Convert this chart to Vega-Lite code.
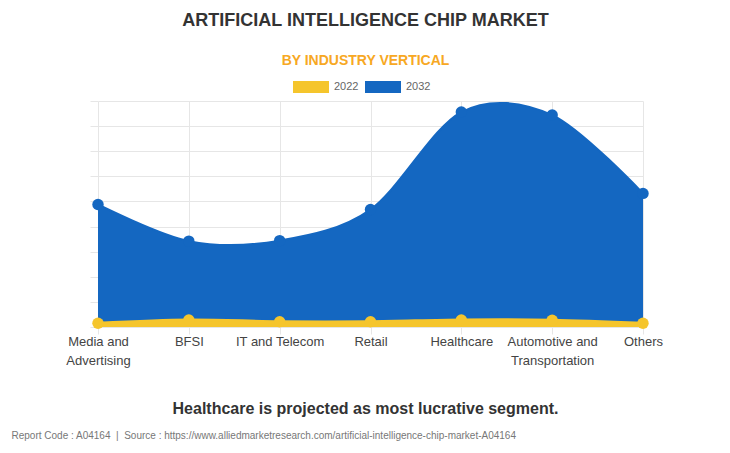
{
  "$schema": "https://vega.github.io/schema/vega-lite/v6.json",
  "autosize": {"type": "none"},
  "width": 545,
  "height": 226,
  "padding": {"left": 98, "top": 101, "right": 87, "bottom": 126},
  "background": "#ffffff",
  "title": {
    "text": "ARTIFICIAL INTELLIGENCE CHIP MARKET",
    "subtitle": "BY INDUSTRY VERTICAL",
    "anchor": "middle",
    "frame": "group",
    "dx": -5,
    "offset": 1,
    "font": "Liberation Sans",
    "fontSize": 18,
    "fontWeight": "bold",
    "color": "#333333",
    "subtitleFont": "Liberation Sans",
    "subtitleFontSize": 14,
    "subtitleFontWeight": "bold",
    "subtitleColor": "#F7A823",
    "subtitlePadding": 24
  },
  "config": {
    "view": {"stroke": null},
    "font": "Liberation Sans"
  },
  "data": {
    "values": [
      {"segment": "Media and Advertising", "year": "2022", "value": 0.75},
      {"segment": "BFSI", "year": "2022", "value": 1.4},
      {"segment": "IT and Telecom", "year": "2022", "value": 1.05},
      {"segment": "Retail", "year": "2022", "value": 1.05},
      {"segment": "Healthcare", "year": "2022", "value": 1.4},
      {"segment": "Automotive and Transportation", "year": "2022", "value": 1.35},
      {"segment": "Others", "year": "2022", "value": 0.75},
      {"segment": "Media and Advertising", "year": "2032", "value": 24.4},
      {"segment": "BFSI", "year": "2032", "value": 17.1},
      {"segment": "IT and Telecom", "year": "2032", "value": 17.2},
      {"segment": "Retail", "year": "2032", "value": 23.4},
      {"segment": "Healthcare", "year": "2032", "value": 42.8},
      {"segment": "Automotive and Transportation", "year": "2032", "value": 42.2},
      {"segment": "Others", "year": "2032", "value": 26.6}
    ]
  },
  "encoding": {
    "x": {
      "field": "segment",
      "type": "nominal",
      "sort": null,
      "scale": {"type": "point", "padding": 0},
      "axis": {
        "title": "Healthcare is projected as most lucrative segment.",
        "titleFont": "Liberation Sans",
        "titleFontSize": 16,
        "titleFontWeight": "bold",
        "titleColor": "#333333",
        "titleX": 267,
        "titleY": 81,
        "titleAlign": "center",
        "titleBaseline": "middle",
        "labelAngle": 0,
        "labelFont": "Liberation Sans",
        "labelFontSize": 13,
        "labelColor": "#444444",
        "labelPadding": 1,
        "labelLineHeight": 19,
        "labelBaseline": "top",
        "labelExpr": "datum.value == 'Media and Advertising' ? ['Media and', 'Advertising'] : datum.value == 'Automotive and Transportation' ? ['Automotive and', 'Transportation'] : datum.value",
        "grid": true,
        "gridColor": "#e6e6e6",
        "gridWidth": 1,
        "domain": false,
        "ticks": true,
        "tickColor": "#e6e6e6",
        "tickSize": 7
      }
    },
    "y": {
      "field": "value",
      "type": "quantitative",
      "scale": {"domain": [0, 45], "nice": false},
      "axis": {
        "values": [0, 5, 10, 15, 20, 25, 30, 35, 40, 45],
        "labels": false,
        "domain": false,
        "ticks": true,
        "tickSize": 8,
        "tickColor": "#e6e6e6",
        "grid": true,
        "gridColor": "#e6e6e6",
        "title": "Report Code : A04164\u00a0\u00a0|\u00a0\u00a0Source : https://www.alliedmarketresearch.com/artificial-intelligence-chip-market-A04164",
        "titleAngle": 0,
        "titleX": -87,
        "titleY": 334,
        "titleAlign": "left",
        "titleBaseline": "middle",
        "titleFont": "Liberation Sans",
        "titleFontSize": 10,
        "titleFontWeight": "normal",
        "titleColor": "#777777"
      }
    },
    "color": {
      "field": "year",
      "type": "nominal",
      "scale": {"domain": ["2022", "2032"], "range": ["#F5C52C", "#1467C1"]},
      "legend": {
        "orient": "none",
        "direction": "horizontal",
        "legendX": 195,
        "legendY": -32,
        "title": null,
        "padding": 0,
        "symbolType": "M-1,-0.333H1V0.333H-1Z",
        "symbolSize": 1296,
        "symbolStrokeWidth": 0,
        "symbolOpacity": 1,
        "labelFont": "Liberation Sans",
        "labelFontSize": 11,
        "labelColor": "#666666",
        "labelOffset": 5,
        "columnPadding": 6
      }
    }
  },
  "layer": [
    {
      "transform": [{"filter": "datum.year == '2032'"}],
      "mark": {"type": "area", "interpolate": "cardinal", "tension": 0.05, "opacity": 1, "line": {"strokeWidth": 2}},
      "encoding": {"y": {"field": "value", "type": "quantitative", "stack": null}}
    },
    {
      "transform": [{"filter": "datum.year == '2032'"}],
      "mark": {"type": "point", "filled": true, "opacity": 1, "size": 130}
    },
    {
      "transform": [{"filter": "datum.year == '2022'"}],
      "mark": {"type": "area", "interpolate": "cardinal", "tension": 0.05, "opacity": 1, "line": {"strokeWidth": 3}},
      "encoding": {"y": {"field": "value", "type": "quantitative", "stack": null}}
    },
    {
      "transform": [{"filter": "datum.year == '2022'"}],
      "mark": {"type": "point", "filled": true, "opacity": 1, "size": 130}
    }
  ]
}
